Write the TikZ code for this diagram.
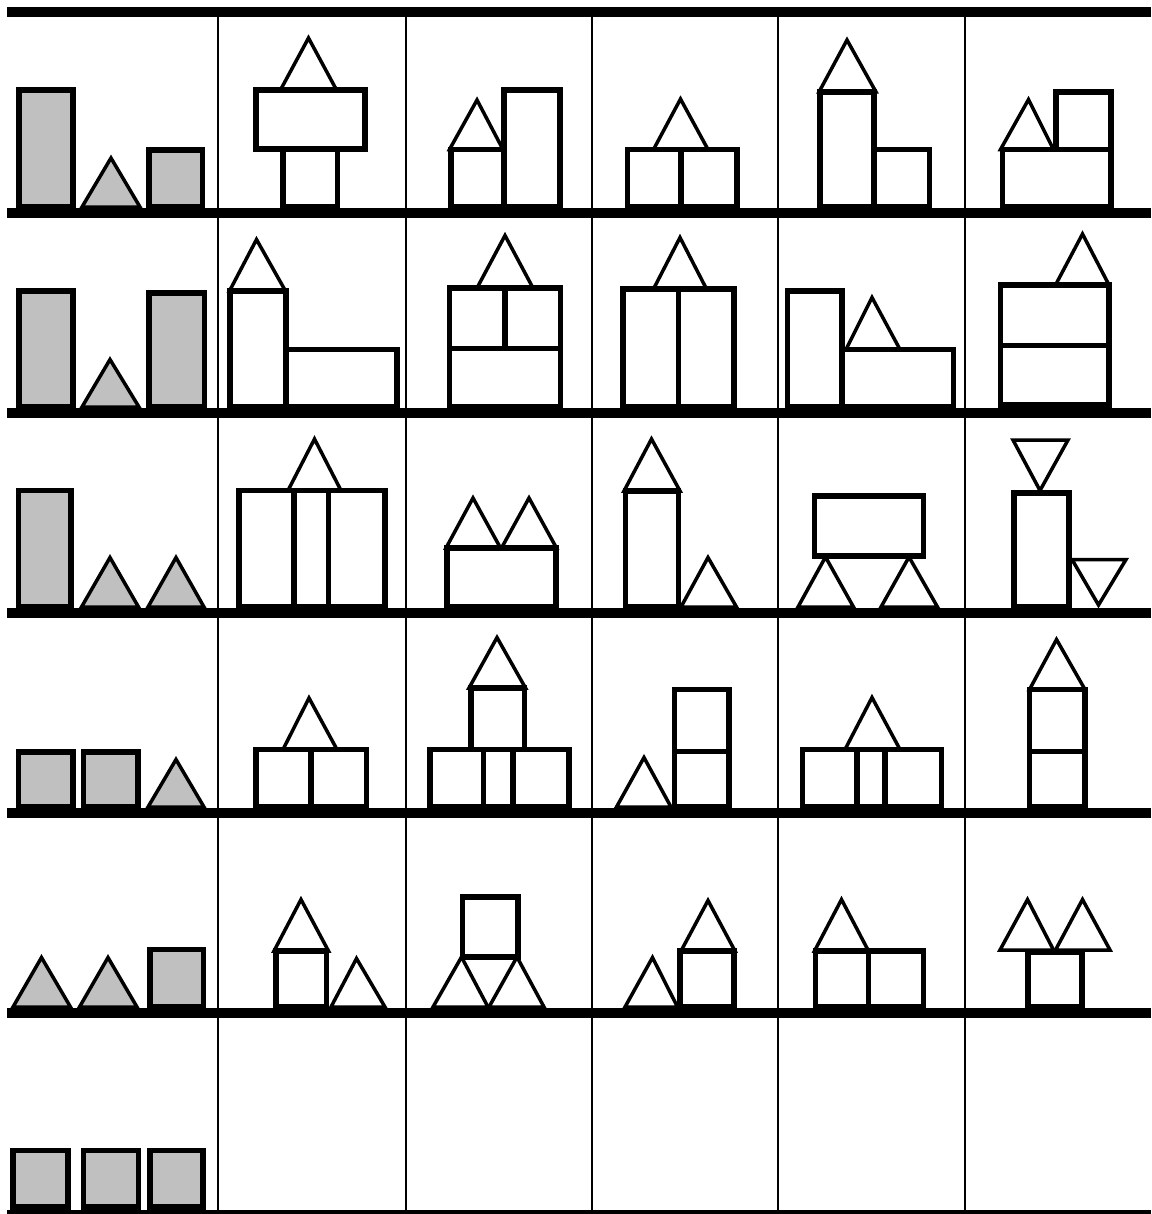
\documentclass[tikz,border=0pt]{standalone}
\usepackage{tikz}
\definecolor{abublok}{RGB}{192,192,192}

\begin{document}
\begin{tikzpicture}[x=0.2mm, y=-0.2mm,
        balok/.style={draw, line width=1.1mm},
        segitiga/.style={draw, line width=0.7mm},
        lantai/.style={line width=1.9mm},
        sekat/.style={line width=0.3mm}]
                \useasboundingbox (0,0) rectangle (1151,1214);
                \draw[sekat] (218,12) -- (218,1214);
                \draw[sekat] (406,12) -- (406,1214);
                \draw[sekat] (592,12) -- (592,1214);
                \draw[sekat] (778,12) -- (778,1214);
                \draw[sekat] (965,12) -- (965,1214);
                % baris 1
                \draw[balok, fill=abublok] (19,90) rectangle (73,207);
                \draw[segitiga, fill=abublok] (82,207) -- (111,158) -- (140,207) -- cycle;
                \draw[balok, fill=abublok] (149,150) rectangle (202.5,207);
                \draw[balok] (283,149) rectangle (337.5,207);
                \draw[balok] (256,90) rectangle (365,149);
                \draw[segitiga] (281,89) -- (308.5,38) -- (336,89) -- cycle;
                \draw[balok] (451,149.5) rectangle (504,207);
                \draw[balok] (504,90) rectangle (560,207);
                \draw[segitiga] (449.5,149.5) -- (477,100) -- (503,149.5) -- cycle;
                \draw[balok] (627.5,149.5) rectangle (737,207);
                \draw[balok] (681,149.5) -- (681,207);
                \draw[segitiga] (653.5,149.5) -- (680.5,99) -- (708,149.5) -- cycle;
                \draw[balok] (820,92) rectangle (874,207);
                \draw[balok] (874,149.5) rectangle (929.5,207);
                \draw[segitiga] (819,92) -- (847,40) -- (876,92) -- cycle;
                \draw[balok] (1002.5,149.5) rectangle (1111,207);
                \draw[balok] (1056,92) rectangle (1111,149.5);
                \draw[segitiga] (1000.5,149.5) -- (1028.5,99.5) -- (1053.5,149.5) -- cycle;
                % baris 2
                \draw[balok, fill=abublok] (19,291) rectangle (73,407);
                \draw[segitiga, fill=abublok] (82,407) -- (110,359.5) -- (139,407) -- cycle;
                \draw[balok, fill=abublok] (149,293) rectangle (204.5,407);
                \draw[balok] (230,291) rectangle (286,407);
                \draw[balok] (286,349.5) rectangle (397,407);
                \draw[segitiga] (229.5,291) -- (256.5,239.5) -- (285.5,291) -- cycle;
                \draw[balok] (449.5,288) rectangle (560.5,407);
                \draw[balok] (449.5,348.5) -- (560.5,348.5);
                \draw[balok] (505,288) -- (505,348.5);
                \draw[segitiga] (477,288) -- (505,235.5) -- (533,288) -- cycle;
                \draw[balok] (623,289) rectangle (734,407);
                \draw[balok] (678.5,289) -- (678.5,407);
                \draw[segitiga] (653.5,289) -- (680,237.5) -- (706.5,289) -- cycle;
                \draw[balok] (787.5,291) rectangle (842,407);
                \draw[balok] (842,349.5) rectangle (953.5,407);
                \draw[segitiga] (846,349.5) -- (872,297.5) -- (900,349.5) -- cycle;
                \draw[balok] (1000.5,285) rectangle (1109,405);
                \draw[balok] (1000.5,345.5) -- (1109,345.5);
                \draw[segitiga] (1055.5,285) -- (1082.5,234) -- (1109,285) -- cycle;
                % baris 3
                \draw[balok, fill=abublok] (18.5,490.5) rectangle (71,607);
                \draw[segitiga, fill=abublok] (81.5,607) -- (110,557.5) -- (138.5,607) -- cycle;
                \draw[segitiga, fill=abublok] (148,607) -- (176,557.5) -- (204,607) -- cycle;
                \draw[balok] (239,490.5) rectangle (385,607);
                \draw[balok] (294,490.5) -- (294,607);
                \draw[balok] (328.5,490.5) -- (328.5,607);
                \draw[segitiga] (288,490.5) -- (314.5,439) -- (341,490.5) -- cycle;
                \draw[balok] (447,548) rectangle (556,607);
                \draw[segitiga] (446,548) -- (473,498) -- (500.5,548) -- cycle;
                \draw[segitiga] (501.5,548) -- (529,498) -- (556.5,548) -- cycle;
                \draw[balok] (625.5,491) rectangle (678.5,607);
                \draw[segitiga] (624,491) -- (651.5,439) -- (680,491) -- cycle;
                \draw[segitiga] (681,607) -- (708,557.5) -- (736.5,607) -- cycle;
                \draw[balok] (814.5,496) rectangle (923.5,556);
                \draw[segitiga] (798,607) -- (825.5,557) -- (853.5,607) -- cycle;
                \draw[segitiga] (881,607) -- (909,557) -- (937.5,607) -- cycle;
                \draw[balok] (1014,493) rectangle (1069,607);
                \draw[segitiga] (1013,440) -- (1068,440) -- (1040,490.5) -- cycle;
                \draw[segitiga] (1072,559.5) -- (1126,559.5) -- (1098.5,605) -- cycle;
                % baris 4
                \draw[balok, fill=abublok] (18.5,752) rectangle (73,807);
                \draw[balok, fill=abublok] (83.5,752) rectangle (138,807);
                \draw[segitiga, fill=abublok] (148,807) -- (176,759.5) -- (204,807) -- cycle;
                \draw[balok] (256,749.5) rectangle (366.5,807);
                \draw[balok] (311,749.5) -- (311,807);
                \draw[segitiga] (283,749.5) -- (309,698) -- (337,749.5) -- cycle;
                \draw[balok] (471,688) rectangle (524.5,749.5);
                \draw[balok] (430,749.5) rectangle (569,807);
                \draw[balok] (483.5,749.5) -- (483.5,807);
                \draw[balok] (513,749.5) -- (513,807);
                \draw[segitiga] (469,688) -- (497,637.5) -- (525.5,688) -- cycle;
                \draw[segitiga] (616.5,807) -- (644,757.5) -- (671,807) -- cycle;
                \draw[balok] (674.5,689.5) rectangle (729,807);
                \draw[balok] (674.5,751.5) -- (729,751.5);
                \draw[balok] (802.5,749.5) rectangle (941.5,807);
                \draw[balok] (857,749.5) -- (857,807);
                \draw[balok] (885,749.5) -- (885,807);
                \draw[segitiga] (845,749.5) -- (872,697.5) -- (900,749.5) -- cycle;
                \draw[balok] (1029.5,689.5) rectangle (1085,807);
                \draw[balok] (1029.5,751.5) -- (1085,751.5);
                \draw[segitiga] (1029.5,689.5) -- (1056.5,639.5) -- (1085,689.5) -- cycle;
                % baris 5
                \draw[segitiga, fill=abublok] (13,1007) -- (41.5,957.5) -- (70.5,1007) -- cycle;
                \draw[segitiga, fill=abublok] (79.5,1007) -- (108,957.5) -- (137,1007) -- cycle;
                \draw[balok, fill=abublok] (150,949.5) rectangle (203.5,1007);
                \draw[balok] (276,951) rectangle (326.5,1007);
                \draw[segitiga] (274,951) -- (301,899.5) -- (328.5,951) -- cycle;
                \draw[segitiga] (331,1007) -- (356.5,958.5) -- (385,1007) -- cycle;
                \draw[balok] (462.5,897) rectangle (518,957);
                \draw[segitiga] (433,1007) -- (461.5,957) -- (488,1007) -- cycle;
                \draw[segitiga] (489,1007) -- (517,957) -- (544,1007) -- cycle;
                \draw[segitiga] (625,1007) -- (652.5,957.5) -- (677.5,1007) -- cycle;
                \draw[balok] (680,951) rectangle (734,1007);
                \draw[segitiga] (681,951) -- (708,900.5) -- (735,951) -- cycle;
                \draw[balok] (815.5,951) rectangle (923.5,1007);
                \draw[balok] (868.5,951) -- (868.5,1007);
                \draw[segitiga] (814.5,951) -- (841.5,899.5) -- (868.5,951) -- cycle;
                \draw[balok] (1028,952) rectangle (1082,1007);
                \draw[segitiga] (1000,950) -- (1027.5,899.5) -- (1053.5,950) -- cycle;
                \draw[segitiga] (1055.5,950) -- (1082.5,899.5) -- (1110,950) -- cycle;
                % baris 6
                \draw[balok, fill=abublok] (13,1150.5) rectangle (68,1207);
                \draw[balok, fill=abublok] (83.5,1150.5) rectangle (138.5,1207);
                \draw[balok, fill=abublok] (150,1150.5) rectangle (203,1207);
                % garis lantai
                \draw[lantai] (7,12) -- (1151,12);
                \draw[lantai] (7,213) -- (1151,213);
                \draw[lantai] (7,413) -- (1151,413);
                \draw[lantai] (7,613) -- (1151,613);
                \draw[lantai] (7,813) -- (1151,813);
                \draw[lantai] (7,1013) -- (1151,1013);
                \draw[line width=0.7mm] (7,1212) -- (1151,1212);
            \end{tikzpicture}
\end{document}
